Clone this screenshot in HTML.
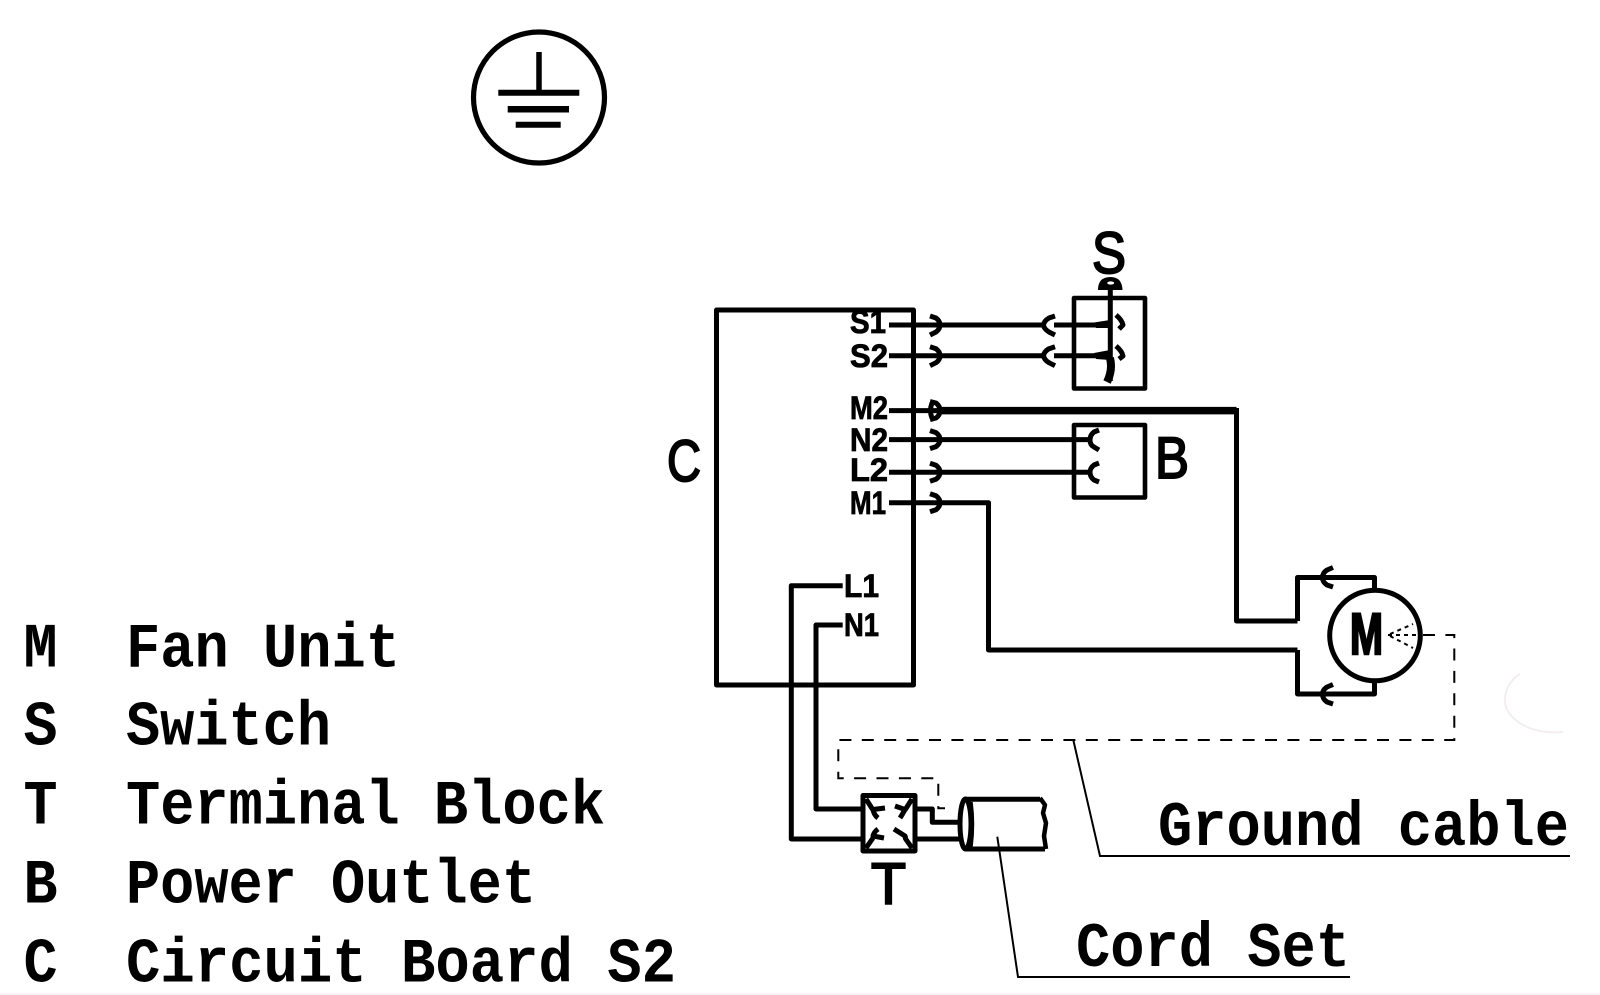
<!DOCTYPE html>
<html><head><meta charset="utf-8"><style>
html,body{margin:0;padding:0;background:#fff}
svg{display:block}
.m{font-family:"Liberation Mono",monospace;font-weight:700;font-size:63px;fill:#000}
.s{font-family:"Liberation Sans",sans-serif;font-size:58px;fill:#000;stroke:#000;stroke-width:2}
.b{font-family:"Liberation Sans",sans-serif;font-weight:700;font-size:32px;fill:#000;stroke:#000;stroke-width:.8}
</style></head><body>
<svg width="1600" height="995" viewBox="0 0 1600 995" xmlns="http://www.w3.org/2000/svg">
<rect width="1600" height="995" fill="#fff"/>
<!-- faint artifacts -->
<path d="M1563,732 C1525,735 1504,715 1505,700 C1505,690 1510,680 1520,674" fill="none" stroke="#f2eef2" stroke-width="2"/>
<line x1="0" y1="994" x2="1600" y2="994" stroke="#f6f1f6" stroke-width="1.5"/>

<!-- Ground symbol -->
<g fill="none" stroke="#000">
<circle cx="539" cy="97.5" r="65.5" stroke-width="5.2"/>
<line x1="539" y1="52" x2="539" y2="92" stroke-width="5.5"/>
<line x1="498.3" y1="92.7" x2="579.3" y2="92.7" stroke-width="6"/>
<line x1="507.7" y1="109.3" x2="569" y2="109.3" stroke-width="6.5"/>
<line x1="515.7" y1="124.7" x2="560.7" y2="124.7" stroke-width="6"/>
</g>

<!-- Legend -->
<text class="m" x="23.5" y="666.5" textLength="34" lengthAdjust="spacingAndGlyphs">M</text>
<text class="m" x="126" y="666.5" textLength="274" lengthAdjust="spacingAndGlyphs">Fan Unit</text>
<text class="m" x="23.5" y="744.5" textLength="34" lengthAdjust="spacingAndGlyphs">S</text>
<text class="m" x="126" y="744.5" textLength="205" lengthAdjust="spacingAndGlyphs">Switch</text>
<text class="m" x="23.5" y="823.5" textLength="34" lengthAdjust="spacingAndGlyphs">T</text>
<text class="m" x="126" y="823.5" textLength="479" lengthAdjust="spacingAndGlyphs">Terminal Block</text>
<text class="m" x="23.5" y="902.5" textLength="34" lengthAdjust="spacingAndGlyphs">B</text>
<text class="m" x="126" y="902.5" textLength="410" lengthAdjust="spacingAndGlyphs">Power Outlet</text>
<text class="m" x="23.5" y="981.5" textLength="34" lengthAdjust="spacingAndGlyphs">C</text>
<text class="m" x="126" y="981.5" textLength="550" lengthAdjust="spacingAndGlyphs">Circuit Board S2</text>

<!-- Right labels -->
<text class="m" x="1158" y="845" textLength="411" lengthAdjust="spacingAndGlyphs">Ground cable</text>
<text class="m" x="1076" y="966" textLength="274" lengthAdjust="spacingAndGlyphs">Cord Set</text>

<!-- Big letters -->
<text class="s" x="667" y="481" textLength="34" lengthAdjust="spacingAndGlyphs">C</text>
<text class="s" x="1155" y="478" textLength="34" lengthAdjust="spacingAndGlyphs">B</text>
<text class="s" x="1092" y="273" textLength="34" lengthAdjust="spacingAndGlyphs">S</text>
<text class="s" x="871" y="904" textLength="35" lengthAdjust="spacingAndGlyphs">T</text>
<text class="s" x="1350" y="654" textLength="33" lengthAdjust="spacingAndGlyphs" style="font-weight:700;stroke-width:2.5">M</text>

<!-- Small labels -->
<text class="b" x="850" y="333" textLength="36" lengthAdjust="spacingAndGlyphs">S1</text>
<text class="b" x="850" y="367" textLength="38" lengthAdjust="spacingAndGlyphs">S2</text>
<text class="b" x="850" y="419" textLength="38" lengthAdjust="spacingAndGlyphs">M2</text>
<text class="b" x="850" y="451" textLength="38" lengthAdjust="spacingAndGlyphs">N2</text>
<text class="b" x="850" y="481" textLength="38" lengthAdjust="spacingAndGlyphs">L2</text>
<text class="b" x="850" y="514" textLength="36" lengthAdjust="spacingAndGlyphs">M1</text>
<text class="b" x="844" y="597" textLength="35" lengthAdjust="spacingAndGlyphs">L1</text>
<text class="b" x="844" y="636" textLength="35" lengthAdjust="spacingAndGlyphs">N1</text>

<g fill="none" stroke="#000" stroke-width="5" stroke-linejoin="round" stroke-linecap="butt">
<!-- Circuit board -->
<rect x="716.5" y="310" width="197" height="375"/>
<!-- stubs and wires -->
<line x1="889" y1="325" x2="1043" y2="325"/>
<line x1="889" y1="355.7" x2="1043" y2="355.7"/>
<line x1="1054" y1="325" x2="1100" y2="325"/>
<line x1="1054" y1="355.7" x2="1100" y2="355.7"/>
<line x1="889" y1="410.6" x2="940" y2="410.6"/>
<path d="M940,410.6H1236.5" stroke-width="7.5"/>
<path d="M1236.5,408V621H1297.5"/>
<line x1="889" y1="439.6" x2="1090" y2="439.6"/>
<line x1="889" y1="472.3" x2="1090" y2="472.3"/>
<path d="M889,502.7H988.5V650H1297.5"/>
<!-- motor wires -->
<path d="M1297.5,621V577.5H1374.5V590"/>
<path d="M1297.5,650V694H1374.5V680"/>
<circle cx="1375" cy="635.5" r="45.3"/>
<!-- switch & outlet -->
<rect x="1074" y="298" width="71" height="90.5" stroke-width="4.6"/>
<rect x="1074" y="425" width="71" height="72.5" stroke-width="4.6"/>
<line x1="1110.3" y1="288" x2="1110.3" y2="381"/>
<path d="M1110,358Q1113,370 1107,382" stroke-width="8"/>
<!-- L1 N1 -->
<path d="M842.7,585.7H791.3V839H862"/>
<path d="M842.7,625H816V809H862"/>
<!-- terminal block -->
<rect x="863" y="795.5" width="52" height="55.5" stroke-width="5"/>
<path d="M915,809H932.3V822.3H960"/>
<path d="M915,839H960"/>
<!-- cord -->
<path d="M965,799.3H1040"/>
<path d="M965,849H1045"/>
<ellipse cx="965.5" cy="824" rx="5.5" ry="25" stroke-width="5"/>
<path d="M971,802Q974,824 971,847" stroke-width="3.5"/>
<path d="M1040,798L1045,805L1043,813L1046,823L1044,836L1046,849" stroke-width="4.5"/>
</g>

<!-- Connectors -->
<g fill="none" stroke="#000" stroke-width="5" stroke-linejoin="round">
<path d="M930,316L936,318Q940,321 940,325Q940,329 936,332L930,335"/>
<path d="M930,346.7L936,348.7Q940,351.7 940,355.7Q940,359.7 936,362.7L930,365.7"/>
<path d="M930,401.6L936,403Q940,406 940,410.6Q940,415 936,418L930,419.6M932,403Q929,410.6 932,418"/>
<path d="M930,430.6L936,432.6Q940,435.6 940,439.6Q940,443.6 936,446.6L930,448.6"/>
<path d="M930,463.3L936,465.3Q940,468.3 940,472.3Q940,476.3 936,479.3L930,481.3"/>
<path d="M930,493.7L936,495.7Q940,498.7 940,502.7Q940,506.7 936,509.7L930,511.7"/>
<path d="M1055,316L1049,318Q1044,321 1043.5,325Q1044,329 1049,332L1055,335"/>
<path d="M1055,346.7L1049,348.7Q1044,351.7 1043.5,355.7Q1044,359.7 1049,362.7L1055,365.7"/>
<path d="M1099,430L1094,432Q1090,435 1090,440Q1090,445 1094,447L1099,450"/>
<path d="M1099,463L1094,465Q1090,468 1090,472.3Q1090,477 1094,480L1099,482"/>
<path d="M1333,567.5L1327,570Q1322.5,573 1322.5,577.5Q1322.5,582 1327,585L1333,587"/>
<path d="M1333,684.5L1327,687Q1322.5,690 1322.5,694Q1322.5,699 1327,702L1333,704"/>
<!-- switch contacts -->
<path d="M1116,315Q1122,320 1123,325L1119,329"/>
<path d="M1116,346Q1122,351 1123,356L1119,359"/>
<!-- terminal block interior -->
<path d="M866,799L873,810M885,808L873,809.5Q874,815 878,818"/>
<path d="M912,799L905,810M895,806L905,809.5Q902,815 900,818"/>
<path d="M866,848L873,838M884,838L873,836Q874,832 878,829"/>
<path d="M912,848L905,838M894,829L905,836Q906,838 905,840"/>
</g>
<!-- contact wedges -->
<polygon points="1094,322.5 1110,320 1110,328 1096,328" fill="#000"/>
<polygon points="1094,353 1110,350 1110,360 1096,359" fill="#000"/>
<!-- switch knob -->
<path d="M1098,290Q1098,277 1110.5,277Q1122,277 1122.5,290Z" fill="#000"/>
<ellipse cx="1110.7" cy="283" rx="3.5" ry="1.6" fill="#fff"/>

<!-- Ground dashed -->
<g fill="none" stroke="#000" stroke-width="2">
<path d="M1423,635H1454.3V740H838.3V778.3H938.3V808.3H945" stroke-dasharray="12 10.4"/>
<path d="M1388,635L1420,635M1390,634L1413,624M1390,636L1413,648" stroke-dasharray="4 4"/>
<!-- leaders -->
<path d="M1073.3,740L1100,856H1570"/>
<path d="M997.3,836.7L1018,977H1350"/>
</g>
</svg>
</body></html>
